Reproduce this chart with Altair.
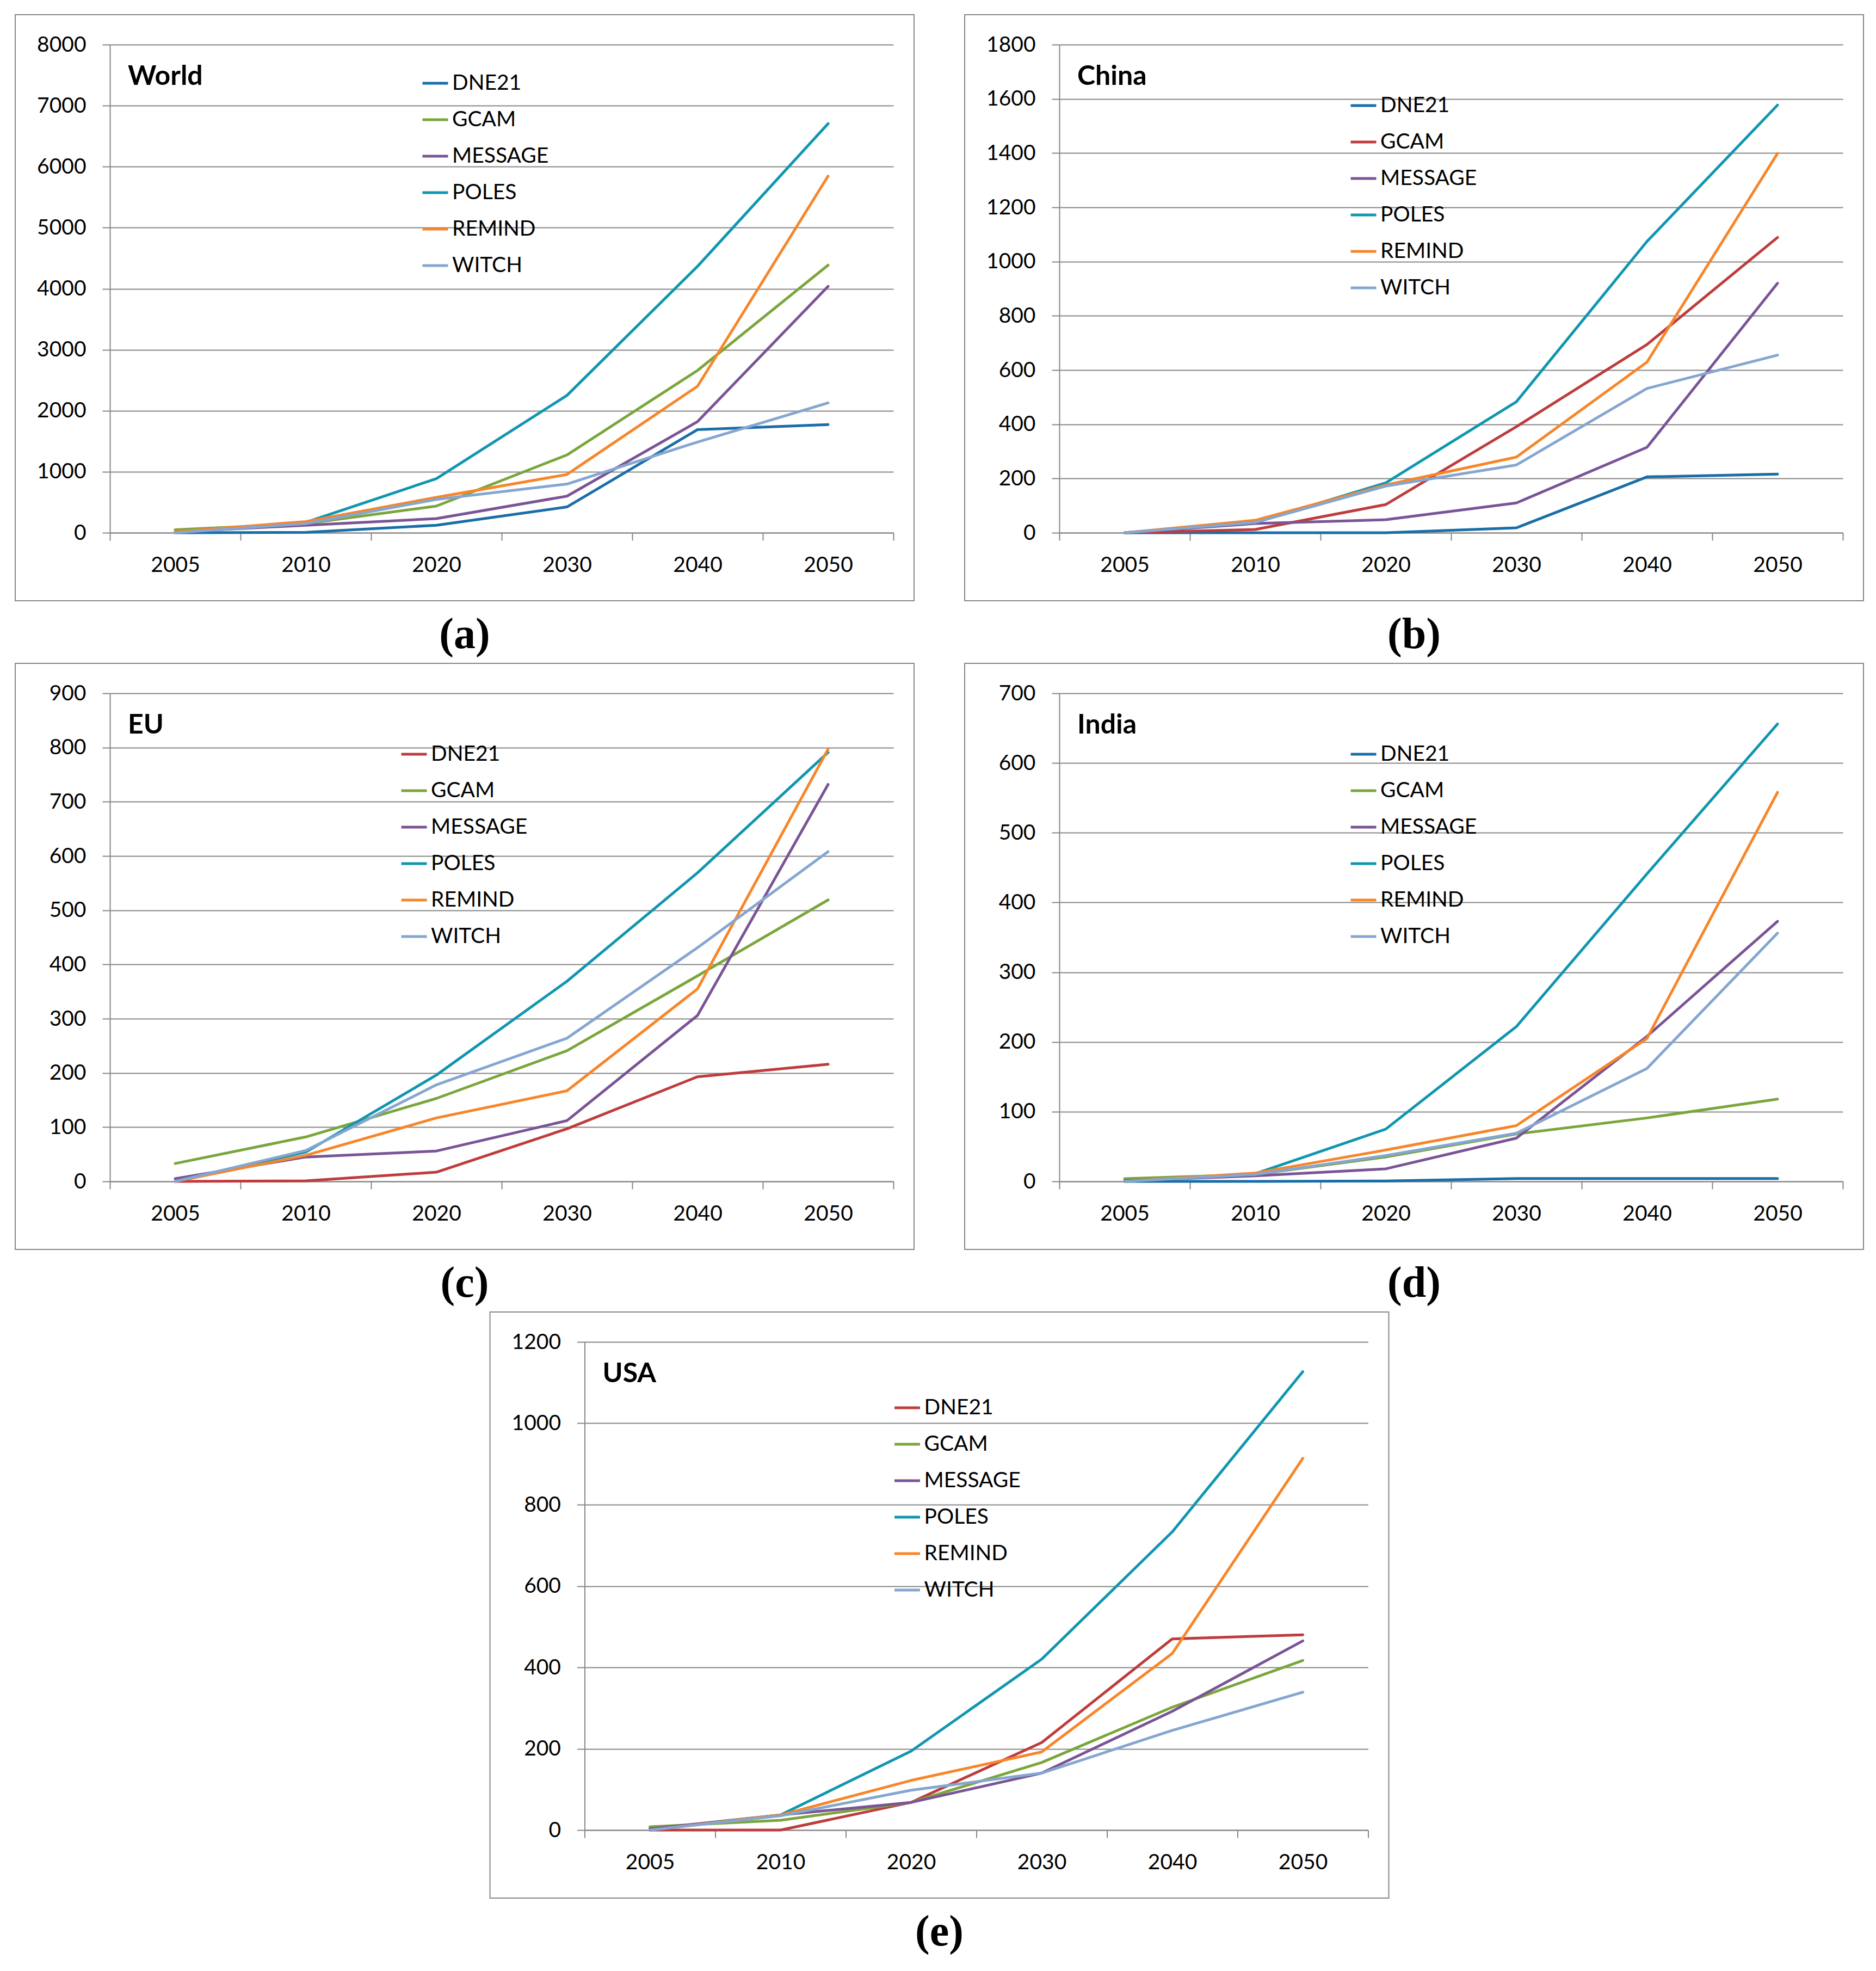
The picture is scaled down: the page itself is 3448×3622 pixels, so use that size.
import altair as alt
import pandas as pd

years = ["2005", "2010", "2020", "2030", "2040", "2050"]
models = ["DNE21", "GCAM", "MESSAGE", "POLES", "REMIND", "WITCH"]

# ---- World ----
world_dne21 = [0, 7, 123, 423, 1690, 1773]
world_gcam = [48, 150, 437, 1275, 2660, 4386]
world_message = [14, 123, 232, 600, 1821, 4038]
world_poles = [5, 170, 887, 2251, 4366, 6705]
world_remind = [15, 184, 580, 955, 2401, 5846]
world_witch = [0, 150, 546, 798, 1487, 2128]

# ---- China ----
china_dne21 = [0, 0, 0, 18, 206, 216]
china_gcam = [0, 12, 104, 391, 694, 1089]
china_message = [0, 34, 48, 110, 315, 920]
china_poles = [0, 38, 184, 483, 1074, 1577]
china_remind = [0, 46, 176, 279, 629, 1399]
china_witch = [0, 38, 172, 250, 532, 655]

# ---- EU ----
eu_dne21 = [0, 1, 17, 97, 193, 216]
eu_gcam = [33, 82, 153, 241, 379, 519]
eu_message = [5, 45, 56, 112, 306, 732]
eu_poles = [0, 54, 196, 369, 569, 791]
eu_remind = [0, 48, 117, 167, 355, 797]
eu_witch = [0, 57, 178, 264, 431, 608]

# ---- India ----
india_dne21 = [0, 0, 0.5, 4, 4, 4]
india_gcam = [4, 10, 35, 68, 91, 118]
india_message = [1, 8, 18, 62, 208, 373]
india_poles = [0, 11, 75, 222, 441, 656]
india_remind = [0, 12, 45, 80, 205, 558]
india_witch = [0, 10, 37, 69, 162, 356]

# ---- USA ----
usa_dne21 = [0, 0, 68, 215, 470, 480]
usa_gcam = [8, 24, 68, 166, 302, 417]
usa_message = [3, 37, 68, 140, 292, 465]
usa_poles = [0, 37, 194, 420, 733, 1127]
usa_remind = [0, 37, 122, 192, 434, 914]
usa_witch = [0, 35, 98, 140, 245, 339]

BLUE = "#1A6EA8"
GREEN = "#7AA63C"
RED = "#BE3C3C"
PURPLE = "#7A5496"
TEAL = "#1096B0"
ORANGE = "#F7862A"
LIGHTBLUE = "#85A6D0"
GRAY = "#878787"

W, H = 1440, 897
FONT = "Lato"


def make_df(series):
    rows = []
    for m, vals in zip(models, series):
        for y, v in zip(years, vals):
            rows.append({"year": y, "model": m, "value": v})
    return pd.DataFrame(rows)


def panel(name, letter, series, ymax, ystep, colors, lx, ly):
    df = make_df(series)
    lines = alt.Chart(df).mark_line(strokeWidth=5, strokeJoin="round", strokeCap="round").encode(
        x=alt.X("year:N", sort=years, bandPosition=0.5,
                scale=alt.Scale(type="band", paddingInner=0, paddingOuter=0),
                axis=alt.Axis(title=None, tickBand="extent", labelAngle=0, grid=False,
                              labelPadding=26)),
        y=alt.Y("value:Q", scale=alt.Scale(domain=[0, ymax], nice=False),
                axis=alt.Axis(title=None, values=list(range(0, ymax + 1, ystep)), grid=True,
                              format="d", labelPadding=30)),
        color=alt.Color("model:N", sort=models,
                        scale=alt.Scale(domain=models, range=colors),
                        legend=alt.Legend(title=None, orient="none", legendX=lx, legendY=ly,
                                          symbolType="stroke", symbolSize=2209,
                                          symbolStrokeWidth=5, labelFontSize=39,
                                          labelFont=FONT, labelColor="black", labelLimit=500,
                                          rowPadding=21, labelOffset=5, padding=0)),
    )
    one = pd.DataFrame({"t": [name], "l": [letter]})
    box = alt.Chart(one).mark_rect(filled=False, stroke=GRAY, strokeWidth=2).encode(
        x=alt.value(-174), x2=alt.value(W + 38), y=alt.value(-55), y2=alt.value(H + 125))
    title = alt.Chart(one).mark_text(font=FONT, fontSize=50, fontWeight="bold", align="left",
                                     baseline="alphabetic", color="black").encode(
        text="t:N", x=alt.value(33), y=alt.value(74))
    lab = alt.Chart(one).mark_text(font="Liberation Serif", fontSize=80, fontWeight="bold",
                                   align="center", baseline="middle", color="black").encode(
        text="l:N", x=alt.value((-174 + W + 38) / 2), y=alt.value(H + 188))
    return alt.layer(box, lines, title, lab).properties(width=W, height=H)


pa = panel("World", "(a)", [world_dne21, world_gcam, world_message, world_poles, world_remind, world_witch],
           8000, 1000, [BLUE, GREEN, PURPLE, TEAL, ORANGE, LIGHTBLUE], 572, 45)
pb = panel("China", "(b)", [china_dne21, china_gcam, china_message, china_poles, china_remind, china_witch],
           1800, 200, [BLUE, RED, PURPLE, TEAL, ORANGE, LIGHTBLUE], 533, 86)
pc = panel("EU", "(c)", [eu_dne21, eu_gcam, eu_message, eu_poles, eu_remind, eu_witch],
           900, 100, [RED, GREEN, PURPLE, TEAL, ORANGE, LIGHTBLUE], 533, 86)
pd_ = panel("India", "(d)", [india_dne21, india_gcam, india_message, india_poles, india_remind, india_witch],
            700, 100, [BLUE, GREEN, PURPLE, TEAL, ORANGE, LIGHTBLUE], 533, 86)
pe = panel("USA", "(e)", [usa_dne21, usa_gcam, usa_message, usa_poles, usa_remind, usa_witch],
           1200, 200, [RED, GREEN, PURPLE, TEAL, ORANGE, LIGHTBLUE], 567, 95)

row1 = alt.hconcat(pa, pb, spacing=91).resolve_scale(color="independent")
row2 = alt.hconcat(pc, pd_, spacing=91).resolve_scale(color="independent")

chart = alt.vconcat(row1, row2, pe, spacing=11, center=True).resolve_scale(
    color="independent"
).properties(
    padding={"left": 19, "top": 18, "right": 5, "bottom": 5},
    background="white",
).configure_view(strokeWidth=0).configure_axis(
    domainColor=GRAY, domainWidth=2, tickColor=GRAY, tickWidth=2, tickSize=14,
    gridColor=GRAY, gridWidth=2, gridOpacity=1, labelFont=FONT, labelFontSize=39,
    labelColor="black",
)

chart.save("out.html", embed_options={"renderer": "svg", "actions": False})
